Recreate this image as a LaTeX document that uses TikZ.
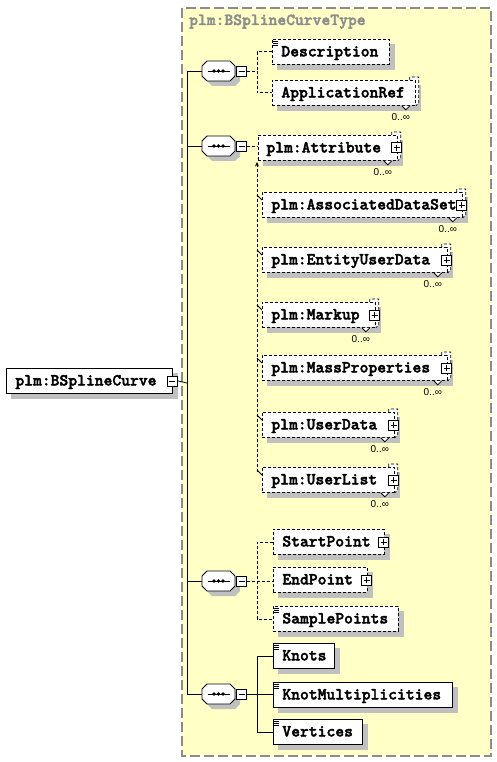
\documentclass[tikz,border=0pt]{standalone}
\usepackage{fontspec}
\newfontfamily\occfont{Liberation Sans}
\newfontfamily\elmono[FakeBold=2.2]{lmmonolt10-bold.otf}
\usetikzlibrary{arrows.meta}
\pgfdeclarelayer{bglayer}
\pgfdeclarelayer{shadowlayer}
\pgfdeclarelayer{backlayer}
\pgfdeclarelayer{connlayer}
\pgfsetlayers{bglayer,shadowlayer,backlayer,connlayer,main}
\definecolor{paneyellow}{HTML}{FFFFC6}
\definecolor{panegray}{HTML}{8C8C8C}
\definecolor{shadowc}{HTML}{C0C0C0}
\newcommand\elfont{\elmono\fontsize{16.8}{18}\selectfont}
\tikzset{
 elbox/.style={draw=black, fill=white, line width=0.8pt, inner sep=0pt, minimum height=25pt,
   text height=11pt, text depth=2pt, font=\elfont, anchor=north west},
 optbox/.style={elbox, dash pattern=on 3pt off 2pt},
 conn/.style={line width=0.8pt},
 optconn/.style={conn, dash pattern=on 3pt off 2pt},
 occ/.style={font=\occfont\fontsize{10}{12}\selectfont, inner sep=0pt},
 minusbox/.style={draw=black, fill=white, line width=0.8pt, minimum size=10pt, inner sep=0pt},
}
% element: name, x, y, width, style, text
\newcommand\xel[6]{%
 \node[#5, minimum width=#4pt] (#1) at (#2,#3) {\makebox[#4pt][l]{\hspace*{9pt}#6}};
 \begin{pgfonlayer}{shadowlayer}\fill[shadowc] ([xshift=5pt,yshift=-5pt]#1.north west) rectangle ([xshift=5pt,yshift=-5pt]#1.south east);\end{pgfonlayer}
}
\newcommand\xmulti[1]{%
 \begin{pgfonlayer}{backlayer}
  \fill[white] ([xshift=-6pt]#1.north east) -- ([xshift=-6pt,yshift=3pt]#1.north east) -- ([xshift=3pt,yshift=3pt]#1.north east) -- ([xshift=3pt,yshift=3pt]#1.south east) -- (#1.south east) -- cycle;
  \draw[line width=0.8pt, dash pattern=on 3pt off 2pt] ([xshift=-6pt]#1.north east) -- ([xshift=-6pt,yshift=3pt]#1.north east) -- ([xshift=3pt,yshift=3pt]#1.north east) -- ([xshift=3pt,yshift=3pt]#1.south east) -- (#1.south east);
 \end{pgfonlayer}
 \draw[line width=0.8pt, fill=white] ([xshift=-14pt]#1.south east) -- ++(4,4) -- ++(4,-4);
 \node[occ] (#1-occ) at ([xshift=-15pt,yshift=-11pt]#1.south east) {0..∞};
}
\newcommand\xplus[1]{%
 \draw[line width=0.8pt, fill=white] ([xshift=-6pt,yshift=-5pt]#1.east) rectangle ([xshift=4pt,yshift=5pt]#1.east);
 \draw[line width=0.8pt] ([xshift=-4pt]#1.east) -- ([xshift=2pt]#1.east) ([xshift=-1pt,yshift=-3pt]#1.east) -- ([xshift=-1pt,yshift=3pt]#1.east);
}
\newcommand\xdoc[1]{%
 \draw[line width=0.7pt] ([xshift=1pt,yshift=-2.5pt]#1.north west) -- ++(5,0) ([xshift=1pt,yshift=-4.5pt]#1.north west) -- ++(5,0) ([xshift=1pt,yshift=-6.5pt]#1.north west) -- ++(5,0);
}
% sequence symbol: name, cx, cy
\newcommand\xseq[3]{%
 \node[minimum width=33pt, minimum height=20pt, inner sep=0pt] (#1) at (#2,#3) {};
 \begin{pgfonlayer}{shadowlayer}\fill[shadowc] (#2-6.5,#3-5) -- (#2+16.5,#3-5) -- (#2+21.5,#3) -- (#2+21.5,#3+10) -- (#2+16.5,#3+15) -- (#2-6.5,#3+15) -- (#2-11.5,#3+10) -- (#2-11.5,#3) -- cycle;\end{pgfonlayer}
 \draw[fill=white, line width=0.8pt] (#2-11.5,#3-10) -- (#2+11.5,#3-10) -- (#2+16.5,#3-5) -- (#2+16.5,#3+5) -- (#2+11.5,#3+10) -- (#2-11.5,#3+10) -- (#2-16.5,#3+5) -- (#2-16.5,#3-5) -- cycle;
 \draw[line width=0.8pt] (#2-11,#3) -- (#2+11,#3);
 \fill (#2-4.5,#3) circle (1.8) (#2,#3) circle (1.8) (#2+4.5,#3) circle (1.8);
 \node[minusbox] (#1m) at (#2+23,#3) {};
 \draw[line width=0.8pt] (#2+20,#3) -- (#2+26,#3);
}
\begin{document}
\begin{tikzpicture}[x=1pt,y=-1pt]
\useasboundingbox (0,0) rectangle (497,762);
\begin{pgfonlayer}{bglayer}
 \fill[white] (0,0) rectangle (497,762);
 \fill[paneyellow] (182,8) rectangle (491,756);
 \draw[panegray, line width=1.2pt, dash pattern=on 10pt off 4pt] (182,8) rectangle (491,756);
\end{pgfonlayer}
\node[anchor=base west, inner sep=0pt, text=panegray, font=\elfont] (title) at (189,25) {plm:BSplineCurveType};

% root
\xel{root}{6}{368}{166}{elbox}{plm:BSplineCurve}
\node[minusbox] (rootm) at ([xshift=-0.5pt]root.east) {};
\draw[line width=0.8pt] ([xshift=-3.5pt]root.east) -- ([xshift=2.5pt]root.east);

% sequences
\xseq{s1}{218.5}{71}
\xseq{s2}{218.5}{146}
\xseq{s3}{218.5}{581}
\xseq{s4}{218.5}{694}

% group 1
\xel{desc}{272}{39}{117}{optbox}{Description}\xdoc{desc}
\xel{appref}{272}{80}{143}{optbox}{ApplicationRef}\xmulti{appref}

% group 2
\xel{attr}{258}{135}{139}{optbox}{\hspace*{-1pt}plm:Attribute}\xmulti{attr}\xplus{attr}
\xel{ads}{262}{192}{200}{optbox}{plm:AssociatedDataSet}\xmulti{ads}\xplus{ads}
\xel{eud}{262}{247}{185}{optbox}{plm:EntityUserData}\xmulti{eud}\xplus{eud}
\xel{markup}{262}{302}{113}{optbox}{plm:Markup}\xmulti{markup}\xplus{markup}
\xel{massp}{262}{355}{185}{optbox}{plm:MassProperties}\xmulti{massp}\xplus{massp}
\xel{userdata}{262}{412}{132}{optbox}{plm:UserData}\xmulti{userdata}\xplus{userdata}
\xel{userlist}{262}{467}{132}{optbox}{plm:UserList}\xmulti{userlist}\xplus{userlist}

% group 3
\xel{startp}{273}{529}{111}{optbox}{StartPoint}\xplus{startp}
\xel{endp}{273}{567}{94}{optbox}{EndPoint}\xplus{endp}
\xel{samplep}{273}{606}{125}{optbox}{SamplePoints}\xdoc{samplep}

% group 4
\xel{knots}{273}{643}{61}{elbox}{Knots}\xdoc{knots}
\xel{knotm}{273}{682}{179}{elbox}{KnotMultiplicities}\xdoc{knotm}
\xel{vertices}{273}{719}{89}{elbox}{Vertices}\xdoc{vertices}

% connectors
\begin{pgfonlayer}{connlayer}
 \coordinate (sp0) at (187,383);
 \coordinate (sp1) at (187,71);
 \coordinate (sp2) at (187,146);
 \coordinate (sp3) at (187,581);
 \coordinate (sp4) at (187,694);
 \draw[conn] (rootm.east) -- (sp0);
 \draw[conn] (s1.west) -- (sp1) -- (sp4) -- (s4.west);
 \draw[conn] (s2.west) -- (sp2);
 \draw[conn] (s3.west) -- (sp3);
 % group 1
 \coordinate (g1) at (257,71);
 \draw[optconn] (s1m.east) -- (g1);
 \draw[optconn] (desc.west) -| (g1);
 \draw[optconn] (g1) |- (appref.west);
 % group 2
 \draw[optconn] (s2m.east) -- (s2m.east -| attr.west);
 \coordinate (g2top) at (257,162);
 \coordinate (g2bot) at (257,472);
 \draw[optconn, -{Stealth[length=4.5pt,width=4pt]}] (g2bot) -- (g2top);
 \draw[conn, -{Stealth[length=3pt,width=3pt]}] ([yshift=2pt]attr.south west) -- ++(5,-5);
 \foreach \b in {ads,eud,markup,massp,userdata,userlist}{
   \draw[conn] ([xshift=-5pt,yshift=-3pt]\b.north west) -- ([yshift=-8pt]\b.north west);
 }
 % group 3
 \coordinate (g3) at (257,581);
 \draw[optconn] (s3m.east) -- (g3);
 \draw[optconn] (startp.west) -| (g3);
 \draw[optconn] (g3) |- (samplep.west);
 \draw[optconn] (g3) -- (g3 -| endp.west);
 % group 4
 \coordinate (g4) at (257,694);
 \draw[conn] (s4m.east) -- (g4);
 \draw[conn] (knots.west) -| (g4);
 \draw[conn] (g4) |- (vertices.west);
 \draw[conn] (g4) -- (g4 -| knotm.west);
\end{pgfonlayer}
\end{tikzpicture}
\end{document}
